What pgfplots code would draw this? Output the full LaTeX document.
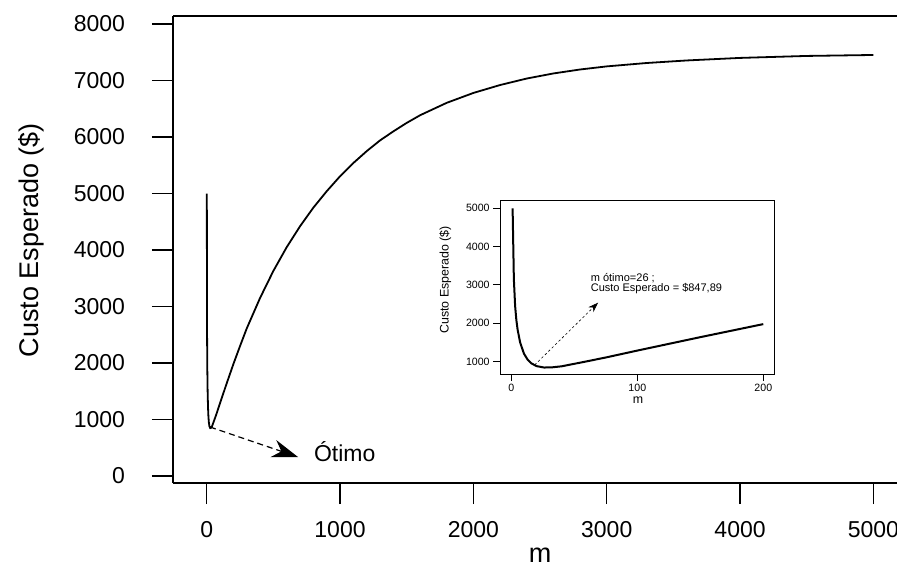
\documentclass[border=0pt]{standalone}
\usepackage{pgfplots}
\pgfplotsset{compat=1.18}
\usepackage{pgfplotstable}
\usepackage{fontspec}
\setmainfont{Liberation Sans}
\usetikzlibrary{arrows.meta}

% expected cost against m
\pgfplotstableread{
m C
1 5000
2 3150
3 2450
4 2080
5 1830
7 1500
10 1210
13 1050
16 955
20 885
26 848
32 852
40 880
50 945
60 1010
75 1110
100 1290
125 1465
150 1640
175 1810
200 1980
250 2300
300 2610
400 3150
500 3630
600 4050
700 4420
800 4750
900 5040
1000 5305
1100 5540
1200 5750
1300 5940
1400 6100
1500 6250
1600 6385
1800 6605
2000 6780
2200 6920
2400 7035
2600 7125
2800 7195
3000 7250
3300 7310
3600 7355
4000 7400
4500 7435
5000 7452
}\custo

\pgfplotstableread{
m C
1 5000
2 3150
3 2450
4 2080
5 1830
7 1500
10 1210
13 1050
16 955
20 885
26 848
32 852
40 880
50 945
60 1010
75 1110
100 1290
125 1465
150 1640
175 1810
200 1980
}\custozoom

\begin{document}
\begin{tikzpicture}
\path[use as bounding box] (0,0) rectangle (448.5pt,287pt);
\begin{axis}[
  at={(86.5pt,45.5pt)}, anchor=south west,
  scale only axis, width=362pt, height=233.5pt,
  xmin=-252.7, xmax=5177, ymin=-124, ymax=8142,
  axis x line*=box, axis y line*=left,
  tick pos=left, tick align=outside, major tick length=10.5pt,
  axis line style={line width=0.75pt}, tick style={line width=0.75pt, black},
  xtick={0,1000,...,5000}, ytick={0,1000,...,8000},
  scaled ticks=false,
  /pgf/number format/set thousands separator={},
  /pgf/number format/assume math mode=true,
  ticklabel style={font=\fontsize{11.5}{14}\selectfont},
  yticklabel style={xshift=-10pt},
  xticklabel style={yshift=-5pt},
  xlabel={m}, ylabel={Custo Esperado (\$)},
  label style={font=\fontsize{13.5}{16}\selectfont},
  xlabel style={at={(axis description cs:0.507,-0.154)}, anchor=center},
  ylabel style={at={(axis description cs:-0.196,0.52)}, anchor=center},
]
  \addplot[black, line width=0.9pt, mark=none] table[x=m, y=C] {\custo};
  \draw[black, line width=0.6pt, dash pattern=on 3pt off 2pt,
        -{Stealth[length=13pt, width=9pt]}]
        (axis cs:25,867) -- (axis cs:685,336);
  \node[anchor=base west, font=\fontsize{11.5}{14}\selectfont]
        at (axis cs:752,248) {Ótimo};
\end{axis}

\begin{axis}[
  at={(250pt,100pt)}, anchor=south west,
  scale only axis, width=137pt, height=87pt,
  xmin=-9, xmax=208.5, ymin=679, ymax=5216,
  axis background/.style={fill=white},
  tick pos=left, tick align=outside, major tick length=3.5pt,
  axis line style={line width=0.5pt}, tick style={line width=0.5pt, black},
  xtick={0,100,200}, ytick={1000,2000,...,5000},
  scaled ticks=false,
  /pgf/number format/set thousands separator={},
  /pgf/number format/assume math mode=true,
  ticklabel style={font=\fontsize{5.3}{6}\selectfont, inner sep=1.5pt},
  xlabel={m}, ylabel={Custo Esperado (\$)},
  label style={font=\fontsize{6.2}{7}\selectfont},
  xlabel style={at={(axis description cs:0.504,-0.149)}, anchor=center},
  ylabel style={at={(axis description cs:-0.2,0.54)}, anchor=center},
]
  \addplot[black, line width=1pt, mark=none] table[x=m, y=C] {\custozoom};
  \draw[black, line width=0.3pt, dash pattern=on 1.2pt off 1.2pt,
        -{Stealth[length=5pt, width=3.5pt]}]
        (axis cs:18.5,914) -- (axis cs:68.8,2538);
  \node[anchor=west, font=\fontsize{5.5}{6.5}\selectfont, inner sep=0pt]
        at (axis cs:62.8,3183) {m ótimo=26 ;};
  \node[anchor=west, font=\fontsize{5.5}{6.5}\selectfont, inner sep=0pt]
        at (axis cs:62.8,2896) {Custo Esperado = \$847,89};
\end{axis}
\end{tikzpicture}
\end{document}
